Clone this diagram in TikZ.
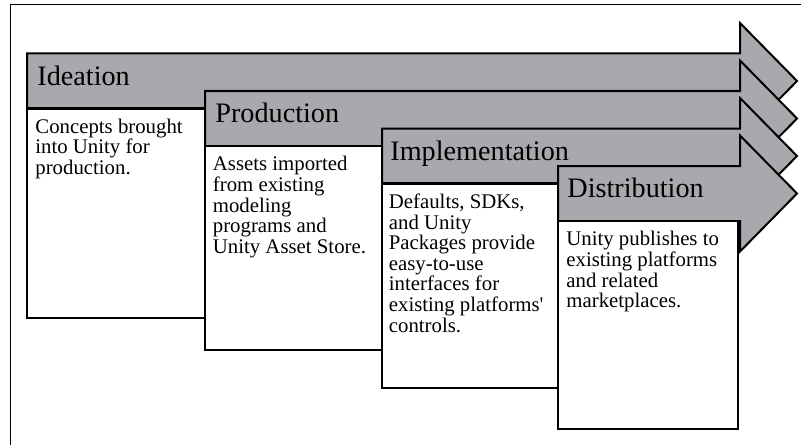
\documentclass[tikz,border=0pt]{standalone}
\usepackage{fontspec}
\setmainfont{Liberation Serif}
\usetikzlibrary{positioning}
\definecolor{stagegray}{RGB}{167,169,172}
\tikzset{
  stagearrow/.style={draw=black, fill=stagegray, line width=1pt},
  stagebox/.style={draw=black, fill=white, line width=1.1pt},
  stagetitle/.style={anchor=base west, inner sep=0pt, font=\fontsize{14.1}{17}\selectfont},
  stagetext/.style={anchor=north west, inner sep=0pt, align=left, font=\fontsize{10.4}{10.3}\selectfont},
}
% block arrow starting at x=#1, centred on y=#2
\newcommand{\stagearrow}[2]{%
  \draw[stagearrow] (#1,#2-27.5) -- (740,#2-27.5) -- (740,#2-58) -- (797,#2)
    -- (740,#2+58) -- (740,#2+27.5) -- (#1,#2+27.5) -- cycle;}

\begin{document}
\begin{tikzpicture}[x=0.5pt,y=-0.5pt]
    \clip (0,0) rectangle (801,444);
    \draw[line width=0.5pt] (10,5) rectangle (830,470);

    \stagearrow{27}{81}
    \node[stagetitle] (ideation) at (37,85) {Ideation};
    \coordinate (c1) at (27,108.5);
    \draw[stagebox] (c1) rectangle (207,318);
    \node[stagetext, below right=5pt and 4pt of c1] (ideationtext)
        {Concepts brought\\into Unity for\\production.};

    \stagearrow{205}{118.5}
    \node[stagetitle] (production) at (215,122.5) {Production};
    \coordinate (c2) at (205,146);
    \draw[stagebox] (c2) rectangle (385,350);
    \node[stagetext, below right=5pt and 3.75pt of c2] (productiontext)
        {Assets imported\\from existing\\modeling\\programs and\\Unity Asset Store.};

    \stagearrow{382}{156}
    \node[stagetitle] (implementation) at (390,160) {Implementation};
    \coordinate (c3) at (382,183.5);
    \draw[stagebox] (c3) rectangle (562,388);
    \node[stagetext, below right=5pt and 3.25pt of c3] (implementationtext)
        {Defaults, SDKs,\\and Unity\\Packages provide\\easy-to-use\\interfaces for\\existing platforms\textquotesingle\\controls.};

    \stagearrow{558}{193.5}
    \node[stagetitle] (distribution) at (567,197.5) {Distribution};
    \coordinate (c4) at (558,221);
    \draw[stagebox] (c4) rectangle (738,429);
    \node[stagetext, below right=5pt and 4pt of c4] (distributiontext)
        {Unity publishes to\\existing platforms\\and related\\marketplaces.};
\end{tikzpicture}
\end{document}
